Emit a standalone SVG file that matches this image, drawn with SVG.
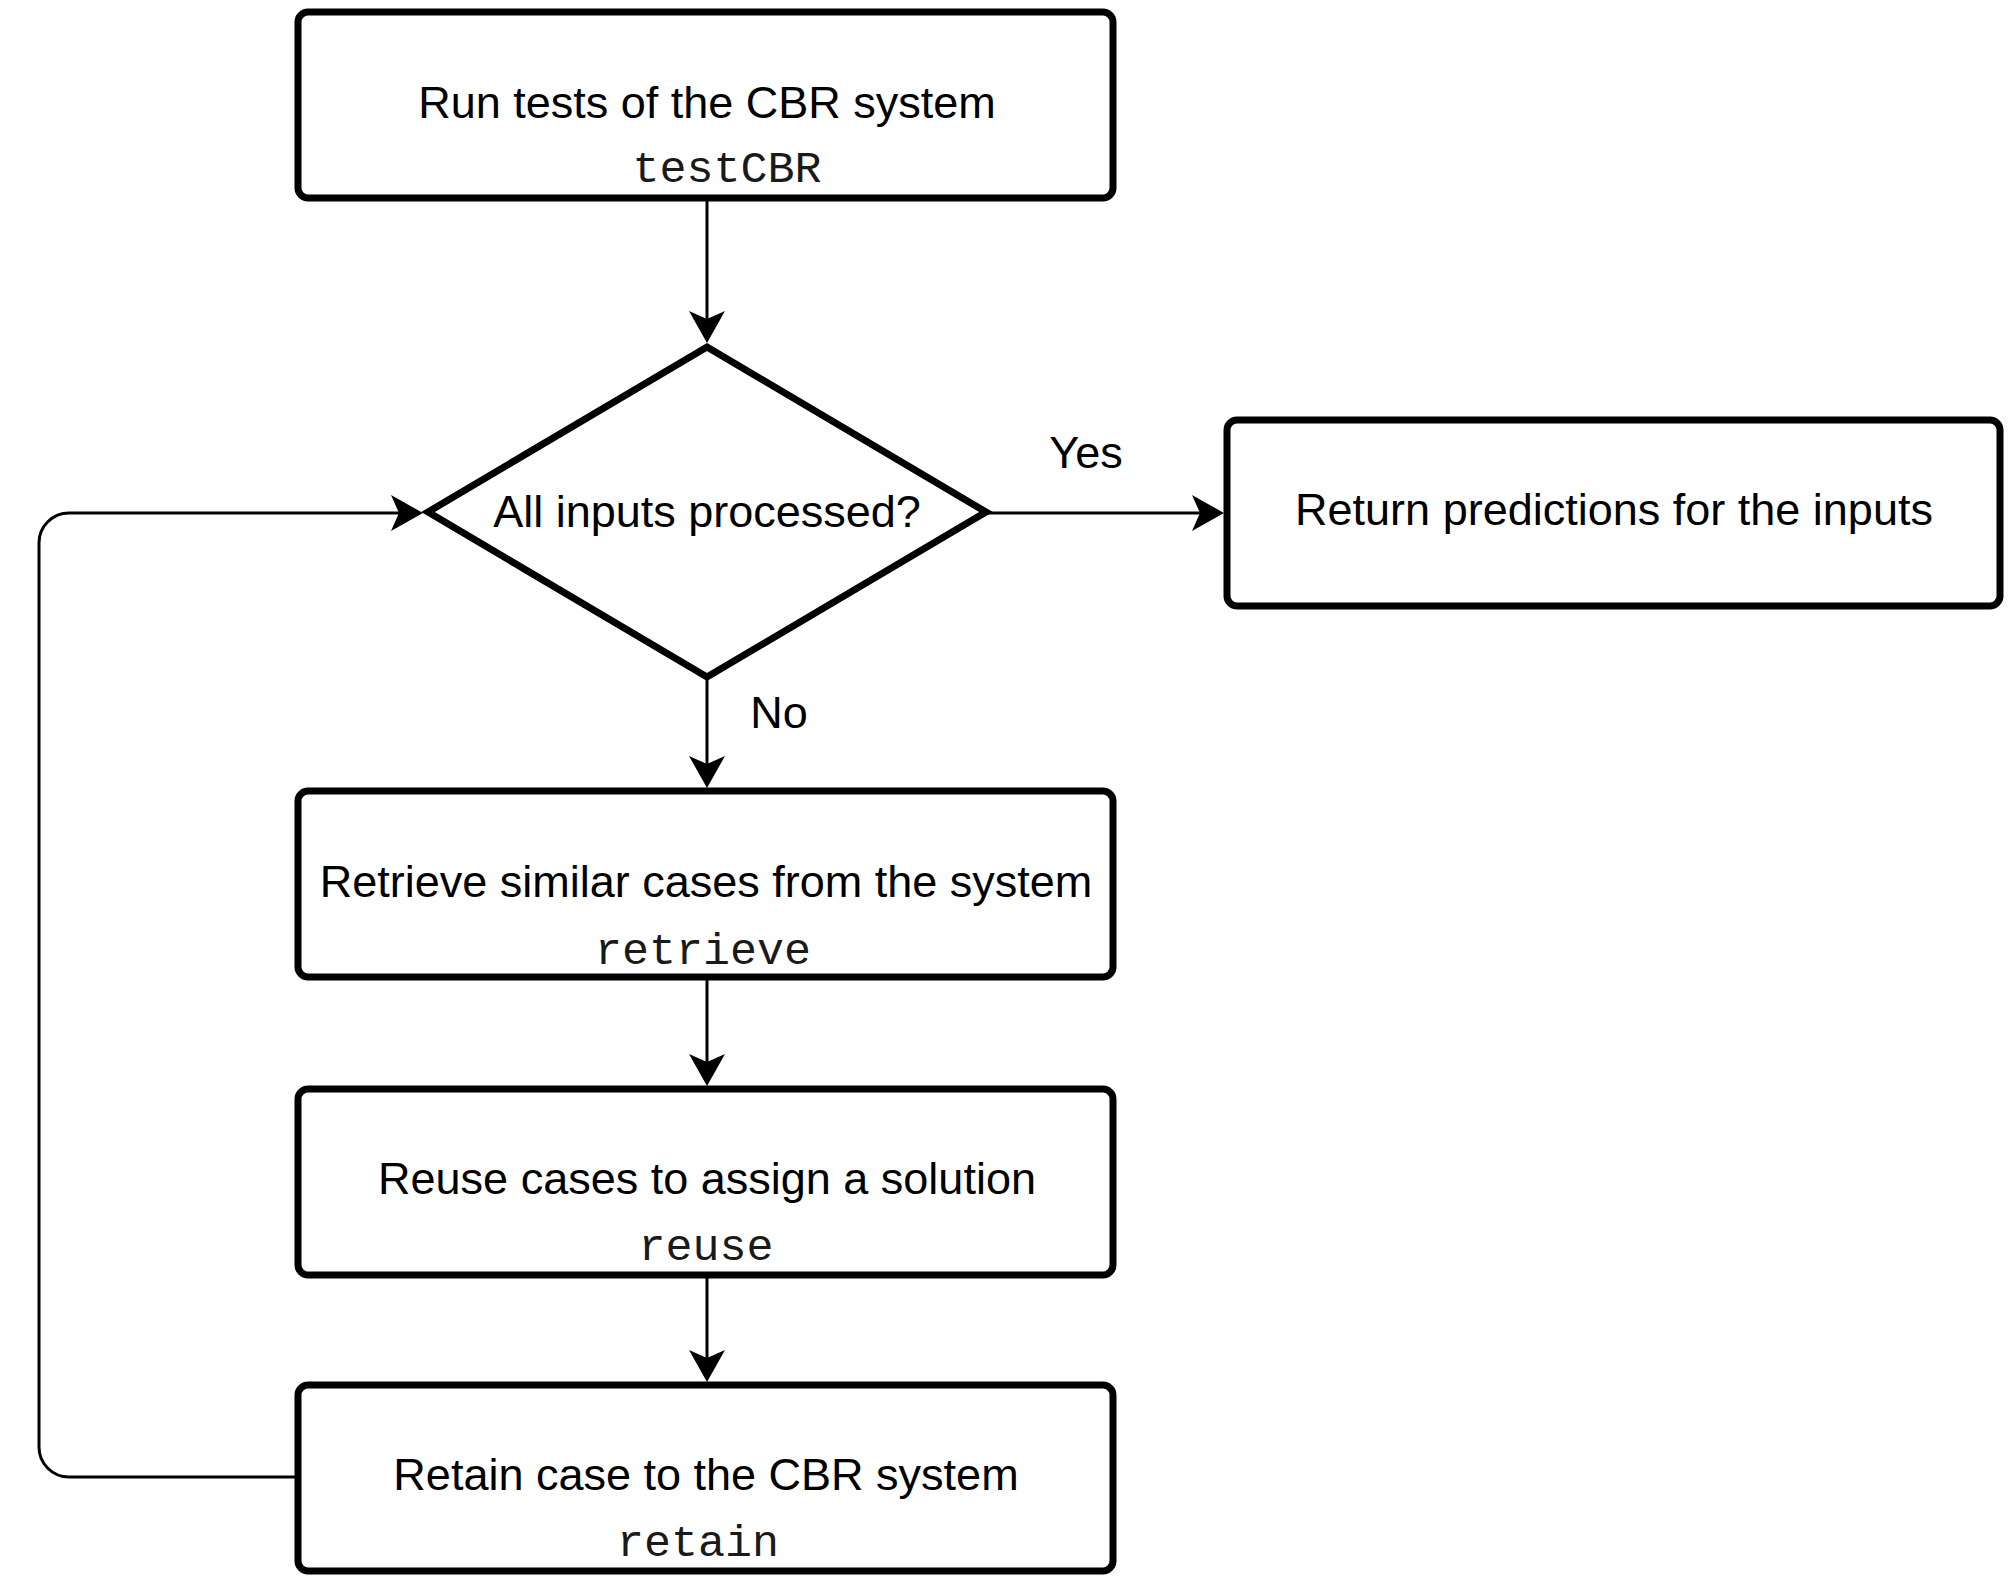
<svg xmlns="http://www.w3.org/2000/svg" width="2010" height="1595" viewBox="0 0 2010 1595">
<style>
.node{fill:#fff;stroke:#000;stroke-width:7;stroke-linejoin:miter}
.t{font-family:"Liberation Sans",Arial,Helvetica,sans-serif;font-size:45px;fill:#000;text-anchor:middle}
.m{font-family:"Liberation Mono","Courier New",monospace;font-size:45px;fill:#1a1a1a;text-anchor:middle}
.edge{fill:none;stroke:#000;stroke-width:3}
</style>
<defs>
<marker id="arr" markerUnits="userSpaceOnUse" markerWidth="34" markerHeight="38" viewBox="0 0 34 38" refX="8" refY="18" orient="auto">
<path d="M0,0 L32,18 L0,36 L8,18 Z" fill="#000"/>
</marker>
</defs>
<rect width="2010" height="1595" fill="#fff"/>
<g id="connectors">
<path class="edge" d="M707,198 V319" marker-end="url(#arr)"/>
<path class="edge" d="M707,680 V764" marker-end="url(#arr)"/>
<path class="edge" d="M707,977 V1062" marker-end="url(#arr)"/>
<path class="edge" d="M707,1275 V1358" marker-end="url(#arr)"/>
<path class="edge" d="M987,513 H1200" marker-end="url(#arr)"/>
<path class="edge" d="M298,1477 H69 A30,30 0 0 1 39,1447 V543 A30,30 0 0 1 69,513 H399" marker-end="url(#arr)"/>
<text class="t" x="1086" y="468">Yes</text>
<text class="t" x="779" y="728">No</text>
</g>
<g id="testCBR">
<rect class="node" x="298" y="12" width="815" height="186" rx="10"/>
<text class="t" x="707" y="118">Run tests of the CBR system</text>
<text class="m" x="727" y="182">testCBR</text>
</g>
<g id="decision">
<polygon class="node" points="707,347 986,512 707,677 428,512"/>
<text class="t" x="707" y="527">All inputs processed?</text>
</g>
<g id="return">
<rect class="node" x="1227" y="420" width="773" height="186" rx="10"/>
<text class="t" x="1614" y="525">Return predictions for the inputs</text>
</g>
<g id="retrieve">
<rect class="node" x="298" y="791" width="815" height="186" rx="10"/>
<text class="t" x="706" y="897">Retrieve similar cases from the system</text>
<text class="m" x="703" y="964">retrieve</text>
</g>
<g id="reuse">
<rect class="node" x="298" y="1089" width="815" height="186" rx="10"/>
<text class="t" x="707" y="1194">Reuse cases to assign a solution</text>
<text class="m" x="706" y="1260">reuse</text>
</g>
<g id="retain">
<rect class="node" x="298" y="1385" width="815" height="186" rx="10"/>
<text class="t" x="706" y="1490">Retain case to the CBR system</text>
<text class="m" x="698" y="1556">retain</text>
</g>
</svg>
